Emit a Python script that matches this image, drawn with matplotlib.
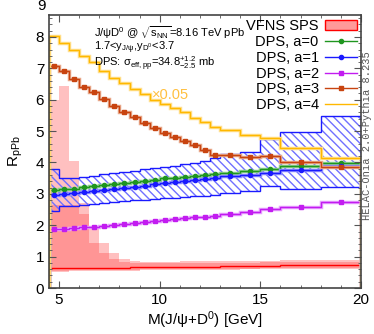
import matplotlib
matplotlib.use("Agg")
import matplotlib.pyplot as plt
import numpy as np
from matplotlib.lines import Line2D
from matplotlib.patches import Patch

plt.rcParams['font.family'] = ['Liberation Sans', 'DejaVu Sans']
plt.rcParams['mathtext.fontset'] = 'custom'
plt.rcParams['mathtext.rm'] = 'Liberation Sans'
plt.rcParams['mathtext.it'] = 'Liberation Sans'

# bin edges of M(J/psi+D0) [GeV]
edges = [4.5, 5.0, 5.5, 6.0, 6.5, 7.0, 7.5, 8.0, 8.5, 9.0, 9.5, 10.0, 10.5,
         11.0, 11.5, 12.0, 12.5, 13.0, 14.0, 15.0, 16.0, 18.0, 20.0]

# VFNS SPS
sps_central = [0.63, 0.63, 0.64, 0.64, 0.64, 0.65, 0.65, 0.65, 0.66, 0.66, 0.66,
               0.67, 0.67, 0.67, 0.68, 0.68, 0.68, 0.69, 0.70, 0.71, 0.72, 0.74]
sps_up1 = [6.0, 6.45, 4.05, 2.70, 1.95, 1.45, 1.10, 0.92, 0.86, 0.84, 0.84,
           0.84, 0.84, 0.85, 0.85, 0.85, 0.85, 0.86, 0.86, 0.87, 0.88, 0.88]
sps_lo1 = [0.52, 0.52, 0.53, 0.53, 0.54, 0.54, 0.55, 0.55, 0.55, 0.56, 0.56,
           0.56, 0.57, 0.57, 0.57, 0.58, 0.58, 0.58, 0.59, 0.60, 0.61, 0.62]
sps_up2 = [2.65, 2.65, 2.65, 2.35, 1.45, 1.10, 0.92, 0.84, 0.80, 0.79, 0.79,
           0.79, 0.79, 0.80, 0.80, 0.80, 0.80, 0.81, 0.81, 0.82, 0.83, 0.83]
sps_lo2 = [0.55, 0.55, 0.56, 0.56, 0.57, 0.57, 0.58, 0.58, 0.58, 0.59, 0.59,
           0.59, 0.60, 0.60, 0.60, 0.61, 0.61, 0.61, 0.62, 0.63, 0.64, 0.65]

# DPS, a=0..4 (a=4 scaled by 0.05)
dps_a0 = [3.12, 3.14, 3.17, 3.21, 3.25, 3.28, 3.31, 3.34, 3.38, 3.41, 3.44,
          3.49, 3.52, 3.55, 3.58, 3.61, 3.63, 3.67, 3.73, 3.78, 3.89, 3.97]
dps_a1 = [2.97, 2.99, 3.02, 3.05, 3.09, 3.12, 3.15, 3.18, 3.22, 3.26, 3.30,
          3.34, 3.38, 3.42, 3.44, 3.47, 3.51, 3.57, 3.60, 3.67, 3.76, 3.89]
dps_a1_up = [3.78, 3.50, 3.52, 3.55, 3.58, 3.62, 3.66, 3.70, 3.74, 3.78, 3.82,
             3.86, 3.90, 3.94, 3.98, 4.06, 4.13, 4.26, 4.34, 4.75, 4.98, 5.48]
dps_a1_lo = [2.45, 2.60, 2.62, 2.65, 2.68, 2.71, 2.73, 2.76, 2.79, 2.82, 2.85,
             2.87, 2.88, 2.90, 2.92, 2.94, 2.96, 3.02, 3.08, 3.25, 3.14, 3.21]
dps_a2 = [1.87, 1.88, 1.90, 1.93, 1.95, 1.98, 2.02, 2.05, 2.08, 2.11, 2.14,
          2.17, 2.20, 2.22, 2.25, 2.27, 2.30, 2.35, 2.43, 2.51, 2.59, 2.75]
dps_a3 = [7.08, 6.91, 6.65, 6.42, 6.25, 6.03, 5.81, 5.62, 5.45, 5.27, 5.11,
          4.95, 4.82, 4.70, 4.56, 4.40, 4.25, 4.25, 4.18, 4.20, 4.00, 3.86]
dps_a4 = [8.03, 7.82, 7.60, 7.40, 7.20, 6.92, 6.70, 6.52, 6.35, 6.18, 5.98,
          5.85, 5.74, 5.60, 5.42, 5.28, 5.12, 5.02, 4.87, 4.77, 4.45, 4.13]

labels = ["VFNS SPS", "DPS, a=0", "DPS, a=1", "DPS, a=2", "DPS, a=3", "DPS, a=4"]
info = ["J/\u03c8D$^0$ @ $\\sqrt{\\rm s_{NN}}$=8.16 TeV pPb",
        "1.7<y$_{\\rm J/\u03c8}$,y$_{\\rm D^0}$<3.7",
        "DPS: \u03c3$_{\\rm eff,pp}$=34.8$^{+1.2}_{-2.5}$ mb"]

edges = np.array(edges)
centers = 0.5 * (edges[1:] + edges[:-1])

fig = plt.figure(figsize=(3.74, 3.34), dpi=100)
ax = fig.add_axes([49/374, 1 - 288/334, 312/374, 273/334])

# SPS bands
ax.stairs(sps_up1, edges, baseline=sps_lo1, fill=True, color="#ff4040", alpha=0.33, lw=0)
ax.stairs(sps_up2, edges, baseline=sps_lo2, fill=True, color="#ff4040", alpha=0.33, lw=0)
ax.stairs(sps_central, edges, color="red", lw=1)

# DPS a=1 hatched band
ax.stairs(dps_a1_up, edges, baseline=dps_a1_lo, fill=False, hatch="\\\\\\\\",
          edgecolor="#7070ff", lw=0)
ax.stairs(dps_a1_up, edges, color="#1a1aff", lw=1)
ax.stairs(dps_a1_lo, edges, color="#1a1aff", lw=1)

series = [
    (dps_a0, "#1f961f", "#8fd08f", "o", 3.0),
    (dps_a1, "#1a1aff", "#9090ff", "o", 3.0),
    (dps_a2, "#c21cf0", "#e8a0ff", "s", 2.6),
    (dps_a3, "#c84410", "#e8a88a", "s", 2.4),
    (dps_a4, "#ffb800", "#ffe090", None, 0),
]
handles = [Patch(facecolor="#ff9a9a", edgecolor="red", lw=1)]
for vals, c, halo, m, ms in series:
    ax.stairs(vals, edges, color=halo, lw=2.5)
    ax.stairs(vals, edges, color=c, lw=1)
    if m:
        ax.plot(centers, vals, ls="none", marker=m, ms=ms, color=c)
    handles.append(Line2D([], [], color=c, lw=1, marker=m, ms=ms))

ax.set_xlim(4.5, 20)
ax.set_ylim(0, 8.7)
ax.set_xticks([5, 10, 15, 20])
ax.set_xticks(np.arange(5, 21, 1), minor=True)
ax.set_yticks(range(0, 9))
ax.set_yticks(np.arange(0, 8.7, 0.2), minor=True)
ax.tick_params(which="both", direction="in", top=True, right=True,
               labelsize=11, color="#555555")
ax.tick_params(which="major", length=5)
ax.tick_params(which="minor", length=2.5)
for s in ax.spines.values():
    s.set_color("#444444")
    s.set_linewidth(1.2)
ax.text(-0.01, 9.0, "9", transform=ax.get_yaxis_transform(), ha="right",
        va="center", fontsize=11)

ax.set_xlabel("M(J/\u03c8+D$^0$) [GeV]", fontsize=11, labelpad=2)
ax.set_ylabel("R$_{\\rm pPb}$", fontsize=11, labelpad=8)

ax.legend(handles=handles, labels=labels, loc="upper right", fontsize=10.5,
          frameon=False, markerfirst=False, labelspacing=0.12,
          handlelength=2.2, borderaxespad=0.2, borderpad=0.1,
          handletextpad=0.4)

ax.text(6.74, 8.42, "\n".join(info), fontsize=8.0, va="top", linespacing=0.9)
ax.text(9.6, 6.15, "\u00d70.05", color="#ffc040", fontsize=10.5, va="center")

fig.text(367/374, 1 - 136/334, "HELAC-Onia 2.0+Pythia 8.235", rotation=90,
         family="Liberation Mono", fontsize=7.5, color="#555555",
         ha="center", va="center")

fig.savefig("out.png", dpi=100)
